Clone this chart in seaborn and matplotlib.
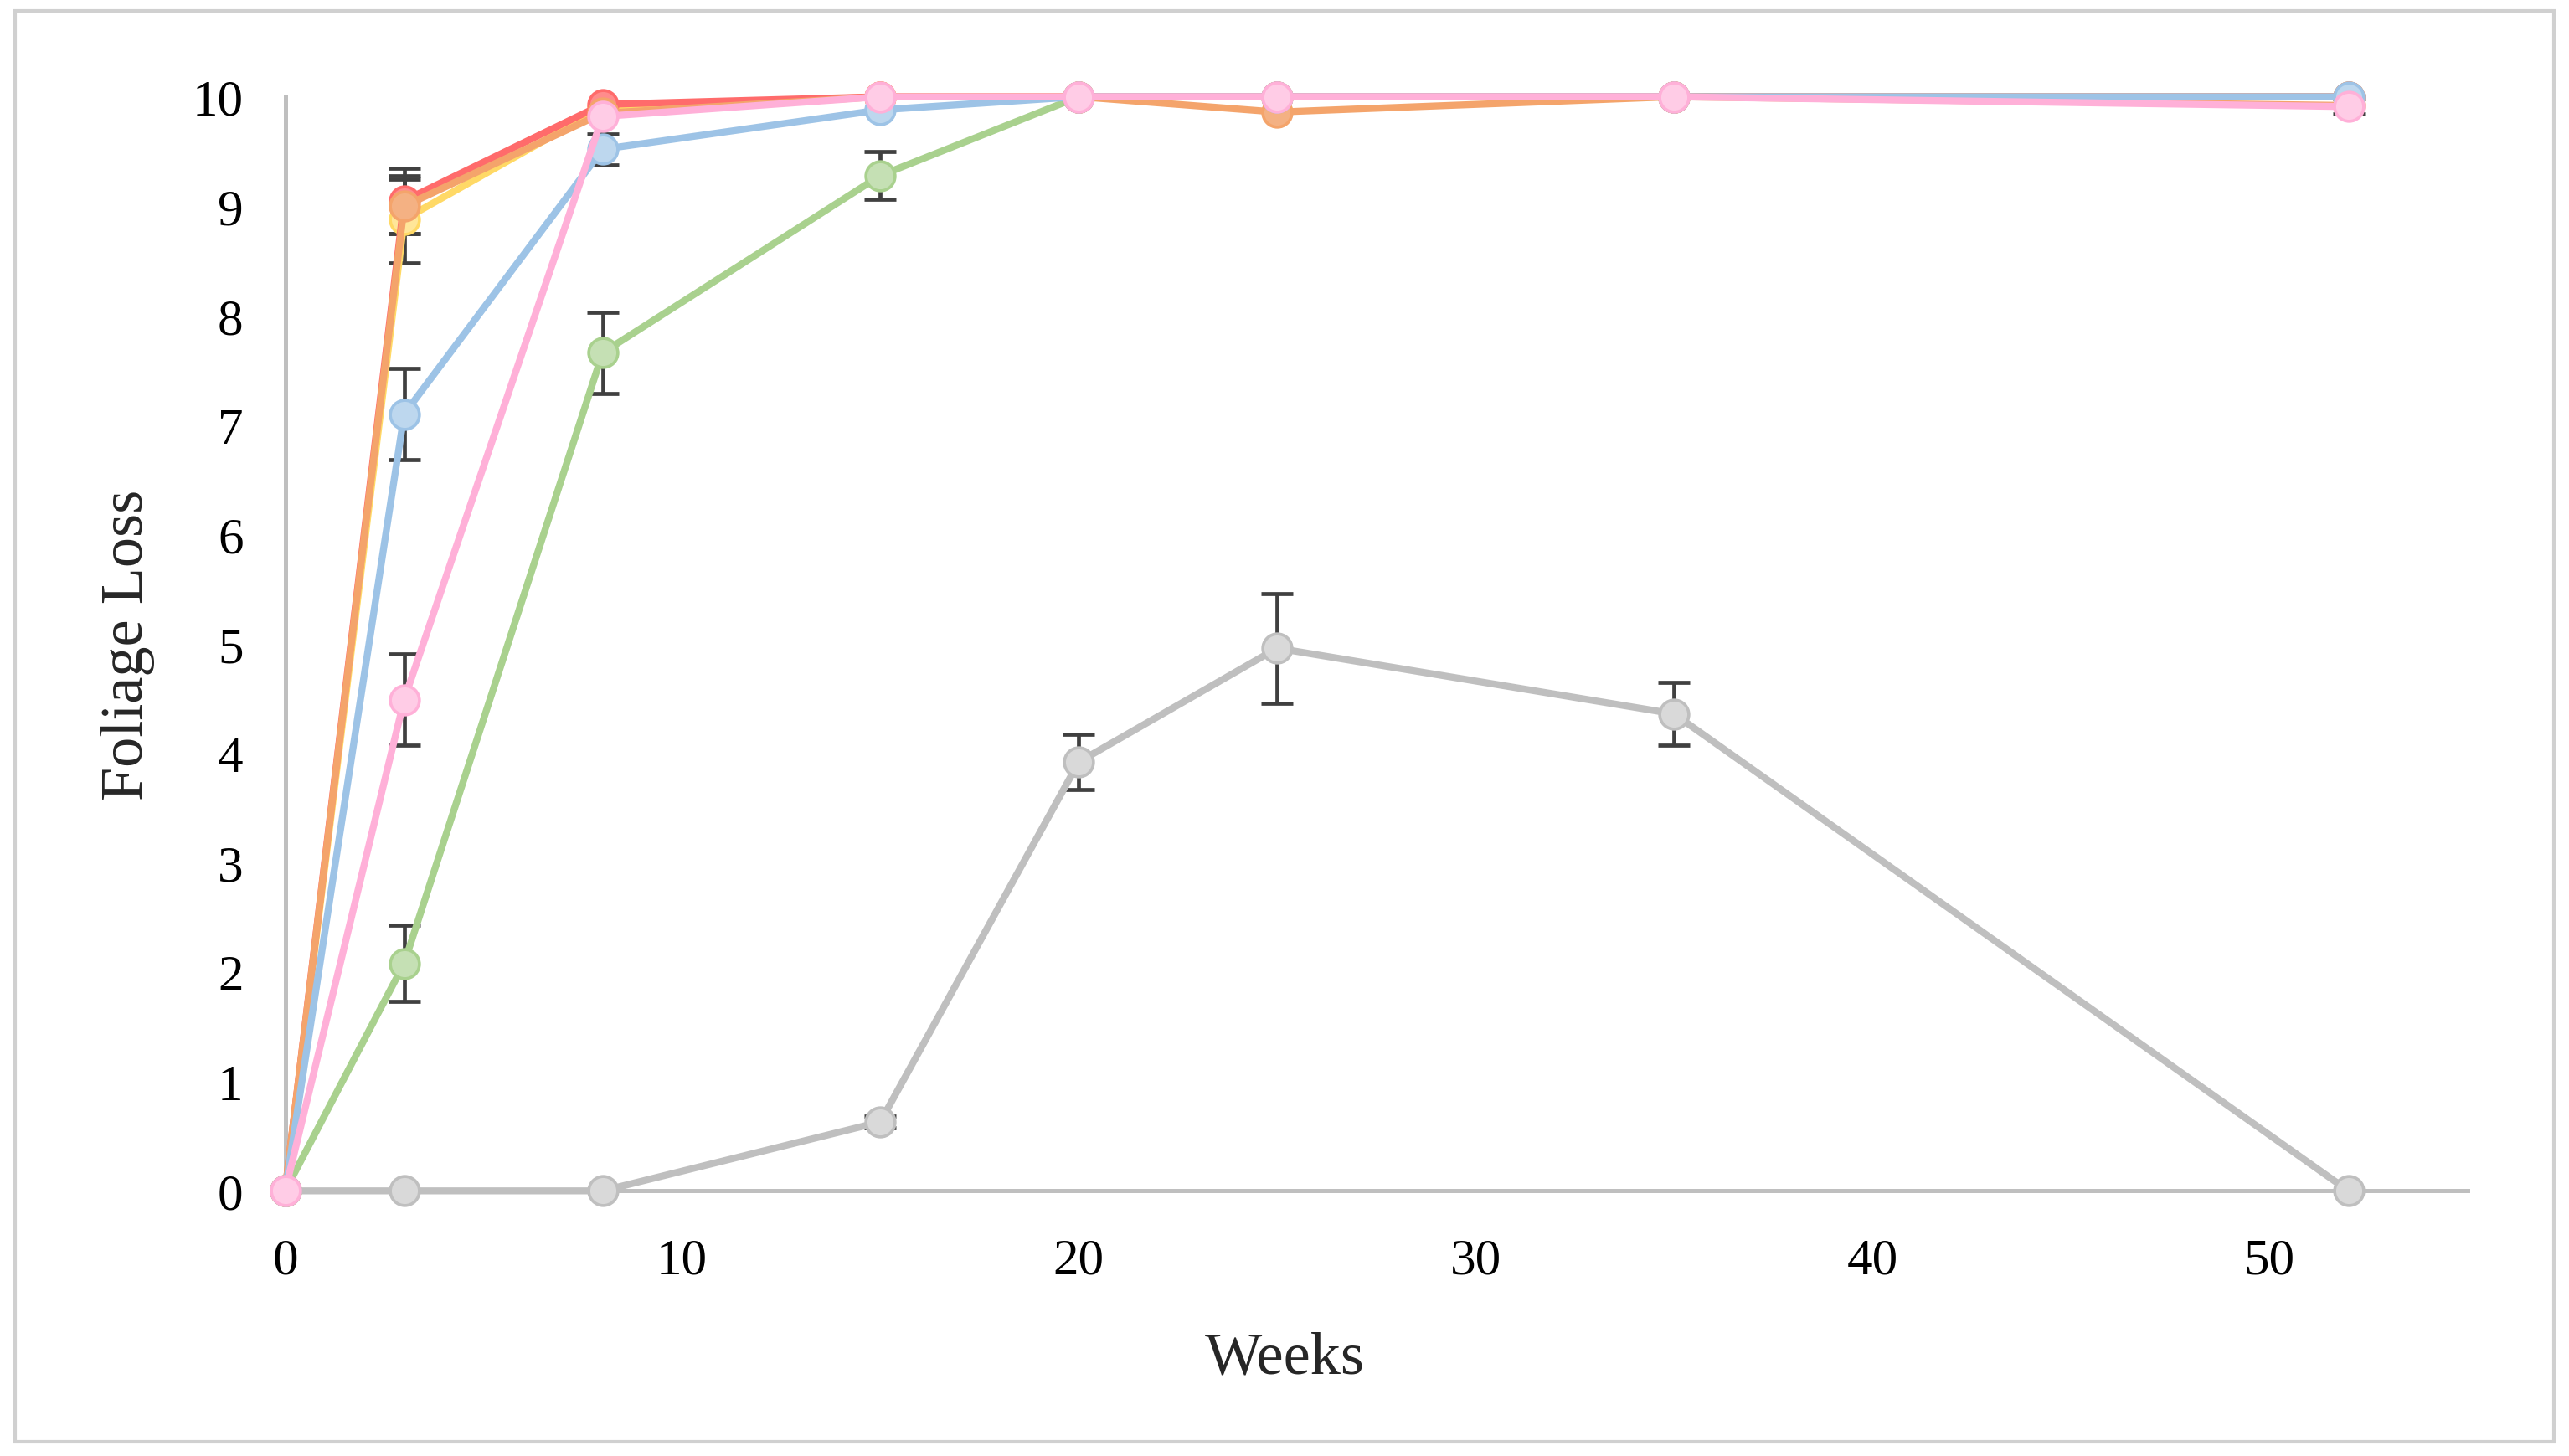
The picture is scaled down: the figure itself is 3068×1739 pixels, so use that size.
import matplotlib
matplotlib.use("Agg")
import matplotlib.pyplot as plt
import seaborn as sns
import pandas as pd
import numpy as np

weeks = [0, 3, 8, 15, 20, 25, 35, 52]

series_names = ["Green", "Yellow", "Red", "Orange", "Blue", "Grey", "Pink"]
values = {
    "Yellow": [0, 8.88, 9.90, 10.0, 10.0, 10.0, 10.0, 10.0],
    "Red":    [0, 9.05, 9.93, 10.0, 10.0, 10.0, 10.0, 10.0],
    "Orange": [0, 9.00, 9.85, 10.0, 10.0, 9.86, 10.0, 9.92],
    "Blue":   [0, 7.10, 9.52, 9.88, 10.0, 10.0, 10.0, 10.0],
    "Green":  [0, 2.08, 7.66, 9.28, 10.0, 10.0, 10.0, 10.0],
    "Grey":   [0, 0.0, 0.0, 0.63, 3.92, 4.96, 4.36, 0.0],
    "Pink":   [0, 4.49, 9.82, 10.0, 10.0, 10.0, 10.0, 9.91],
}
errors = {
    "Yellow": [0, 0.40, 0, 0, 0, 0, 0, 0],
    "Red":    [0, 0.30, 0, 0, 0, 0, 0, 0],
    "Orange": [0, 0.25, 0, 0, 0, 0, 0, 0],
    "Blue":   [0, 0.42, 0.14, 0, 0, 0, 0, 0],
    "Green":  [0, 0.35, 0.37, 0.22, 0, 0, 0, 0],
    "Grey":   [0, 0, 0, 0.05, 0.25, 0.50, 0.29, 0],
    "Pink":   [0, 0.42, 0, 0, 0, 0, 0, 0.07],
}
line_colors = {
    "Yellow": "#FFD966", "Red": "#FF6B6B", "Orange": "#F4A46B",
    "Blue": "#9DC3E6", "Green": "#A9D18E", "Grey": "#BFBFBF", "Pink": "#FFB0D8",
}
face_colors = {
    "Yellow": "#FFE699", "Red": "#FF8C8C", "Orange": "#F4B183",
    "Blue": "#BDD7EE", "Green": "#C5E0B4", "Grey": "#D9D9D9", "Pink": "#FFCCE6",
}

rows = []
for s in series_names:
    for w, v, e in zip(weeks, values[s], errors[s]):
        rows.append({"series": s, "week": w, "loss": v, "err": e})
df = pd.DataFrame(rows)

sns.set_theme(style="white")
plt.rcParams['font.family'] = ['Liberation Serif', 'DejaVu Serif']

fig = plt.figure(figsize=(15.34, 8.70), dpi=200)
ax = fig.add_axes([0.111, 0.182, 0.8495, 0.751])

for s in series_names:
    d = df[df.series == s]
    de = d[d.err > 0]
    if len(de):
        ax.errorbar(de.week, de.loss, yerr=de.err, fmt='none', ecolor='#404040',
                    elinewidth=1.7, capsize=7, capthick=1.7, zorder=2, clip_on=False)
    sns.lineplot(data=d, x="week", y="loss", ax=ax, color=line_colors[s],
                 linewidth=3.0, marker='o', markersize=12.5,
                 markerfacecolor=face_colors[s], markeredgecolor=line_colors[s],
                 markeredgewidth=1.3, clip_on=False, zorder=3, legend=False)

ax.set_xlim(0, 55)
ax.set_ylim(0, 10)
ax.set_xticks([0, 10, 20, 30, 40, 50])
ax.set_yticks(range(0, 11))
ax.tick_params(axis='x', length=0, labelsize=22, colors='black', pad=20)
ax.tick_params(axis='y', length=0, labelsize=22, colors='black', pad=18)
ax.set_xlabel("Weeks", fontsize=26)
ax.set_ylabel("Foliage Loss", fontsize=26, labelpad=16)
ax.xaxis.set_label_coords(0.458, -0.128)

for side in ["top", "right"]:
    ax.spines[side].set_visible(False)
for side in ["left", "bottom"]:
    ax.spines[side].set_color("#BFBFBF")
    ax.spines[side].set_linewidth(1.8)
ax.grid(False)

border = plt.Rectangle((0.006, 0.01), 0.988, 0.982, transform=fig.transFigure,
                       fill=False, edgecolor="#D0D0D0", linewidth=1.5)
fig.patches.append(border)

fig.savefig("out.png", dpi=200, facecolor="white")
